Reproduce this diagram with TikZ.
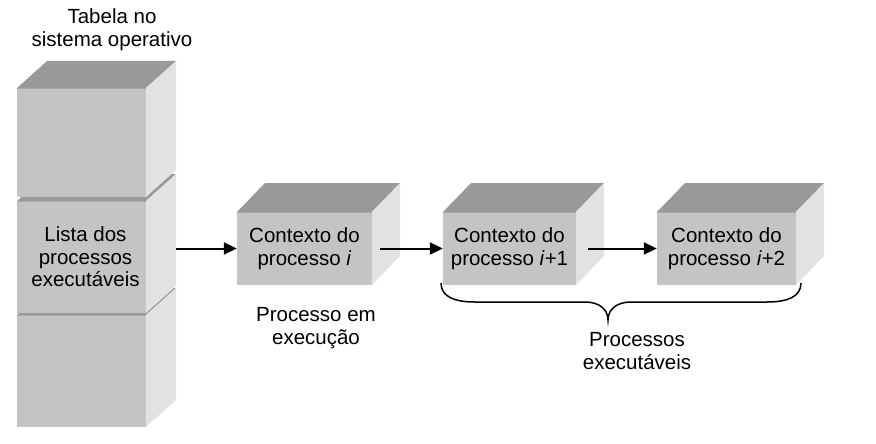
\documentclass[tikz,border=0pt]{standalone}
\usepackage{fontspec}
\setmainfont{Liberation Sans}
\usetikzlibrary{arrows.meta}
\definecolor{topgray}{HTML}{999999}
\definecolor{frontgray}{HTML}{C4C4C4}
\definecolor{sidegray}{HTML}{E2E2E2}
\definecolor{edgegray}{HTML}{A8A8A8}
\tikzset{
  frontbox/.style={fill=frontgray, inner sep=0pt, align=center, font=\fontsize{20.5}{22.5}\selectfont},
  lbl/.style={align=center, inner sep=0pt, font=\fontsize{20.5}{23}\selectfont},
  arr/.style={line width=2pt, -{Triangle[length=13pt,width=12pt]}},
  brace/.style={line width=1.5pt}
}
% name, left x, top y, w, h, dx, dy, text, text xshift
\newcommand\mycube[9]{%
  \fill[topgray] (#2,#3) -- ++(#6,-#7) -- ++(#4,0) -- ++(-#6,#7) -- cycle;
  \fill[sidegray] (#2+#4,#3) -- ++(#6,-#7) -- ++(0,#5) -- ++(-#6,#7) -- cycle;
  \node[frontbox, minimum width=#4pt, minimum height=#5pt] (#1) at (#2+#4/2,#3+#5/2) {\hspace*{#9pt}#8};
  \draw[edgegray, line width=1.2pt] (#2,#3+0.6) -- ++(#4,0);
}
\begin{document}
\begin{tikzpicture}[x=1pt,y=-1pt]
\useasboundingbox (0,0) rectangle (876,444);
% stack
\mycube{bot}{17}{315}{129}{112}{30}{27}{}{0}
\mycube{lista}{17}{201}{129}{112}{30}{27}{Lista dos\\\hspace*{8pt}processos\\\hspace*{8pt}executáveis}{8}
\mycube{topc}{17}{88}{129}{109}{30}{27}{}{0}
% processes
\mycube{c1}{237}{212}{135}{73}{28}{29}{Contexto do\\processo \textit{i}}{0}
\mycube{c2}{443}{212}{133}{73}{28}{29}{Contexto do\\processo \textit{i}+1}{0}
\mycube{c3}{657}{212}{139}{73}{28}{29}{Contexto do\\processo \textit{i}+2}{0}
% labels
\node[lbl] (title) at (112,30) {Tabela no\\sistema operativo};
\node[lbl] (exec) at (316,328) {Processo em\\execução};
\node[lbl] (execs) at (637,351) {Processos\\executáveis};
% arrows
\draw[arr] ([xshift=30pt]lista.east |- c1.west) -- (c1.west);
\draw[arr] ([xshift=8pt]c1.east) -- (c2.west);
\draw[arr] ([xshift=12pt]c2.east) -- (c3.west);
% brace
\coordinate (bl) at (441,283);
\coordinate (br) at (801,283);
\coordinate (bt) at (608,320);
\draw[brace] (bl) .. controls (441,297) and (455,302) .. (475,302) -- (585,302)
  .. controls (600,302) and (608,310) .. (bt)
  .. controls (608,310) and (616,302) .. (631,302) -- (767,302)
  .. controls (787,302) and (801,297) .. (br);
\end{tikzpicture}
\end{document}
